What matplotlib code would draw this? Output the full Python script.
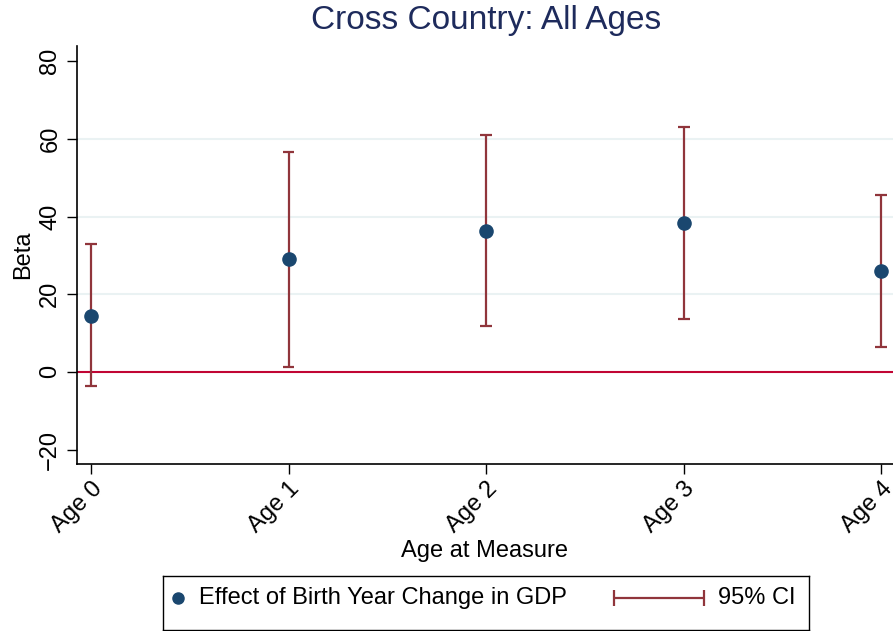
import matplotlib
matplotlib.use("Agg")
import matplotlib.pyplot as plt

# data
ages = ["Age 0", "Age 1", "Age 2", "Age 3", "Age 4"]
beta = [14.5, 29.0, 36.3, 38.3, 26.0]
ci_low = [-3.7, 1.3, 11.7, 13.6, 6.4]
ci_high = [32.9, 56.6, 61.0, 63.1, 45.6]

plt.rcParams["font.family"] = ["Liberation Sans", "DejaVu Sans"]

navy = "#1a476f"
maroon = "#90353b"
grid_col = "#eaf2f3"
fs = 17

fig = plt.figure(figsize=(8.93, 6.31), dpi=100)
ax = fig.add_axes([0.0857, 0.2642, 0.9143, 0.6628])

x = list(range(len(ages)))
ax.axhline(0, color="#c10534", lw=1.5, zorder=2)
ax.vlines(x, ci_low, ci_high, color=maroon, lw=1.6, zorder=3)
ax.hlines(ci_low, [i - 0.03 for i in x], [i + 0.03 for i in x], color=maroon, lw=1.6, zorder=3)
ax.hlines(ci_high, [i - 0.03 for i in x], [i + 0.03 for i in x], color=maroon, lw=1.6, zorder=3)
ax.scatter(x, beta, s=90, color=navy, zorder=4)

ax.set_xlim(-0.073, 4.06)
ax.set_ylim(-23.8, 83.9)
ax.set_yticks([-20, 0, 20, 40, 60, 80])
for g in [20, 40, 60]:
    ax.axhline(g, color=grid_col, lw=1.5, zorder=1)

ax.set_xticks(x)
ax.set_xticklabels(ages, rotation=45, ha="right", rotation_mode="anchor")
ax.tick_params(axis="y", labelrotation=90, labelsize=fs, length=7, width=1, pad=4)
ax.tick_params(axis="x", labelsize=fs, length=7, width=1, pad=3)
for lab in ax.get_yticklabels():
    lab.set_va("center")

ax.spines["top"].set_visible(False)
ax.spines["right"].set_visible(False)
ax.spines["left"].set_linewidth(1.2)
ax.spines["bottom"].set_linewidth(1.2)

ax.set_ylabel("Beta", fontsize=fs, labelpad=4)
ax.set_xlabel("Age at Measure", fontsize=fs, labelpad=2)
fig.text(0.544, 0.968, "Cross Country: All Ages", fontsize=24, color="#1e2b5c",
         ha="center", va="center")

# legend box drawn as its own small axes (pixel units inside)
lax = fig.add_axes([162.7 / 893, 1 / 631, 646.6 / 893, 54.3 / 631])
lax.set_xlim(0, 646.6)
lax.set_ylim(0, 54.3)
lax.set_xticks([])
lax.set_yticks([])
for sp in lax.spines.values():
    sp.set_linewidth(1.0)
    sp.set_color("black")
lax.plot([15.5], [32], "o", color=navy, markersize=8)
lax.text(36, 32, "Effect of Birth Year Change in GDP", fontsize=fs, va="center", ha="left")
lax.errorbar([496], [32], xerr=[[45], [45]], fmt="none", ecolor=maroon,
             elinewidth=1.6, capsize=6, capthick=1.6)
lax.text(555, 32, "95% CI", fontsize=fs, va="center", ha="left")

fig.savefig("out.png", dpi=100)
